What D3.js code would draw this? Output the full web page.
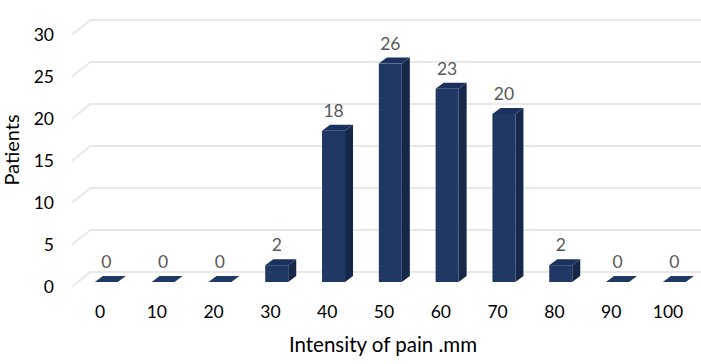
<!DOCTYPE html>
<html>
<head>
<meta charset="utf-8">
<script src="https://cdn.jsdelivr.net/npm/d3@7"></script>
<style>
  html, body { margin: 0; padding: 0; background: #fff; }
  svg { display: block; font-family: Lato, "Open Sans", sans-serif; }
</style>
</head>
<body>
<svg id="chart" width="701" height="364"></svg>
<script>
const categories = ["0", "10", "20", "30", "40", "50", "60", "70", "80", "90", "100"];
const patients = [0, 0, 0, 2, 18, 26, 23, 20, 2, 0, 0];
const yTicks = [0, 5, 10, 15, 20, 25, 30];
const xTitle = "Intensity of pain .mm";
const yTitle = "Patients";

const svg = d3.select("#chart");
const W = 701;

// front plane scales
const x = d3.scaleBand().domain(categories).range([71.6, 696.4]).paddingInner(0).paddingOuter(0);
const y = d3.scaleLinear().domain([0, 30]).range([287, 35]);

// 3D depth of the floor/walls
const depth = { dx: 19, dy: -15 };
const barFrac = 1 / 3;
const barDepth = { dx: 8, dy: -6 };
const barW = 23;

// gridlines (back wall + left diagonal)
const grid = svg.append("g");
yTicks.forEach(t => {
  const y0 = y(t);
  grid.append("path")
    .attr("d", `M${x.range()[0]},${y0} L${x.range()[0] + depth.dx},${y0 + depth.dy} L${W},${y0 + depth.dy}`)
    .attr("fill", "none")
    .attr("stroke", "#e8e8e8")
    .attr("stroke-width", 2);
});

// y tick labels
svg.append("g").selectAll("text").data(yTicks).join("text")
  .attr("x", 54)
  .attr("y", d => y(d))
  .attr("dy", "0.36em")
  .attr("text-anchor", "end")
  .attr("font-size", 17.5)
  .attr("fill", "#000")
  .text(d => d);

// x tick labels
svg.append("g").selectAll("text").data(categories).join("text")
  .attr("x", d => x(d) + x.bandwidth() / 2)
  .attr("y", 318)
  .attr("text-anchor", "middle")
  .attr("font-size", 17.5)
  .attr("fill", "#000")
  .text(d => d);

// bars
const bars = svg.append("g");
categories.forEach((c, i) => {
  const v = patients[i];
  const cx = x(c) + x.bandwidth() / 2 + depth.dx * barFrac;
  const x0 = cx - barW / 2, x1 = cx + barW / 2;
  const yb = y(0) + depth.dy * barFrac;
  const yt = y(v) + depth.dy * barFrac;
  const g = bars.append("g");
  g.append("path")
    .attr("d", `M${x1},${yt} L${x1 + barDepth.dx},${yt + barDepth.dy} L${x1 + barDepth.dx},${yb + barDepth.dy} L${x1},${yb} Z`)
    .attr("fill", "#16284a");
  if (v > 0) {
    g.append("rect")
      .attr("x", x0).attr("y", yt)
      .attr("width", barW).attr("height", yb - yt)
      .attr("fill", "#203864");
  }
  g.append("path")
    .attr("d", `M${x0},${yt} L${x1},${yt} L${x1 + barDepth.dx},${yt + barDepth.dy} L${x0 + barDepth.dx},${yt + barDepth.dy} Z`)
    .attr("fill", v > 0 ? "#1b3160" : "#203864");
  g.append("text")
    .attr("x", cx)
    .attr("y", yt + barDepth.dy - 8)
    .attr("text-anchor", "middle")
    .attr("font-size", 17.5)
    .attr("fill", "#595959")
    .text(v);
});

// axis titles
svg.append("text")
  .attr("x", 383)
  .attr("y", 352)
  .attr("text-anchor", "middle")
  .attr("font-size", 20.5)
  .attr("fill", "#000")
  .text(xTitle);

svg.append("text")
  .attr("transform", "translate(19,150) rotate(-90)")
  .attr("text-anchor", "middle")
  .attr("font-size", 20)
  .attr("fill", "#000")
  .text(yTitle);
</script>
</body>
</html>
